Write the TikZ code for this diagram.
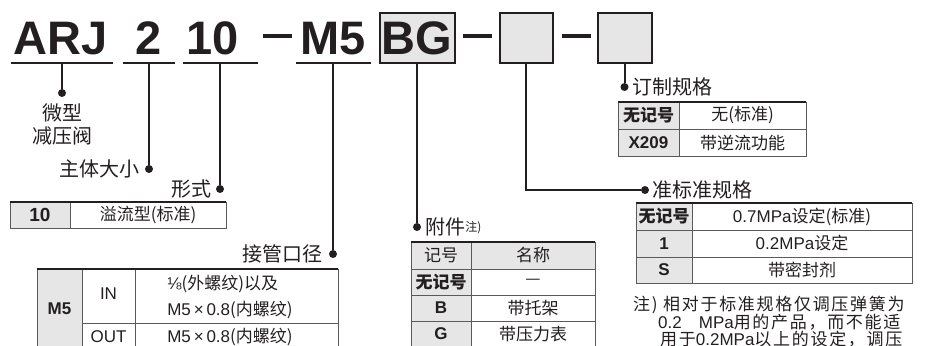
\documentclass[tikz,border=0pt]{standalone}
\usepackage{fontspec}
\setmainfont{Noto Sans CJK SC}
\newfontfamily\hv{Liberation Sans}
\newfontfamily\notefont{Noto Sans CJK SC}[LetterSpace=10]
\usetikzlibrary{positioning}
\definecolor{ink}{HTML}{231F20}
\definecolor{cellgray}{HTML}{E6E6E6}
\definecolor{rulegray}{HTML}{5A5A5A}

\begin{document}
\begin{tikzpicture}[x=1pt, y=-1pt, every node/.style={text=ink, inner sep=0},
  code/.style={font=\hv\bfseries\fontsize{47}{47}\selectfont, anchor=base},
  bar/.style={fill=ink, minimum width=#1, minimum height=2.5pt},
  slot/.style={draw=ink, line width=2pt, fill=cellgray, minimum width=#1, minimum height=50pt},
  hyph/.style={fill=ink, minimum width=29pt, minimum height=4pt},
  dot/.style={circle, fill=ink, minimum size=8pt},
  lead/.style={draw=ink, line width=2pt},
  lbl/.style={font=\fontsize{20}{23}\selectfont},
  cell/.style={font=\fontsize{17}{26}\selectfont},
  key/.style={font=\hv\bfseries\fontsize{17}{17}\selectfont},
  rule/.style={draw=rulegray, line width=0.9pt},
  toprule/.style={draw=ink, line width=1.8pt}]
\useasboundingbox (0,0) rectangle (933,345);

\node[code] (arj) at (61,55) {ARJ};
\node[code] (size) at (149,55) {2};
\node[code] (form) at (213,55) {10};
\node[code] (port) at (333,55) {M5};
\node[slot=75pt] (acc) at (417,38) {};
\node[code] (acctxt) at (417,55) {BG};
\node[slot=53pt] (semi) at (526,38) {};
\node[slot=54pt] (made) at (624.5,38) {};
\node[hyph] (h1) at (277.5,36) {};
\node[hyph] (h2) at (477.5,36) {};
\node[hyph] (h3) at (576.5,36) {};

\node[bar=102pt] (arjbar) at (62,63) {};
\node[bar=52pt] (sizebar) at (149,63) {};
\node[bar=75pt] (formbar) at (220,63) {};
\node[bar=75pt] (portbar) at (333,63) {};

\node[dot] (d1) at (62,93) {};
\node[dot] (d2) at (149,169) {};
\node[dot] (d3) at (220,189) {};
\node[dot] (d4) at (333,254) {};
\node[dot] (d5) at (417,227) {};
\node[dot] (d6) at (645,190) {};
\node[dot] (d7) at (624.5,87) {};

\draw[lead] (arjbar) -- (d1);
\draw[lead] (sizebar) -- (d2);
\draw[lead] (formbar) -- (d3);
\draw[lead] (portbar) -- (d4);
\draw[lead] (acc) -- (d5);
\draw[lead] (semi) |- (d6);
\draw[lead] (made) -- (d7);

\node[lbl, align=center, below=6pt of d1] (l1) {微型\\减压阀};
\node[lbl, left=5pt of d2] (l2) {主体大小};
\node[lbl, left=4pt of d3] (l3) {形式};
\node[lbl, left=6pt of d4] (l4) {接管口径};
\node[lbl, right=4pt of d5] (l5) {附件\raisebox{3pt}{\fontsize{12}{12}\selectfont 注)}};
\node[lbl, right=3pt of d6] (l6) {准标准规格};
\node[lbl, right=4pt of d7] (l7) {订制规格};

\fill[cellgray] (10,202) rectangle (70,228);
\draw[rule] (10,202) rectangle (226,228) (70,202) -- (70,228);
\draw[toprule] (10,202) -- (226,202);
\node[key, font=\hv\bfseries\fontsize{19}{19}\selectfont] (f1) at (40,215) {10};
\node[cell] (f2) at (148,215) {溢流型(标准)};

\fill[cellgray] (37,269) rectangle (82,350);
\draw[rule] (37,269) rectangle (338,350) (82,269) -- (82,350) (135,269) -- (135,350) (82,323) -- (338,323);
\draw[toprule] (37,269) -- (338,269);
\node[key] (p1) at (59.5,309) {M5};
\node[cell, font=\hv\fontsize{17}{17}\selectfont] (p2) at (108.5,294) {IN};
\node[cell, font=\hv\fontsize{17}{17}\selectfont] (p3) at (108.5,337) {OUT};
\node[cell, align=left] (p4) at (230,297) {{\hv ⅛}(外螺纹)以及\\{\hv M5\,×\,0.8}(内螺纹)};
\node[cell] (p5) at (230,337) {{\hv M5\,×\,0.8}(内螺纹)};

\fill[cellgray] (411,242) rectangle (595,269) (411,269) rectangle (471,350);
\draw[rule] (411,242) rectangle (595,347) (471,242) -- (471,347);
\foreach \y in {269,295,321}{
	\draw[rule] (411,\y) -- (595,\y);
}
\draw[toprule] (411,242) -- (595,242);
\foreach \k/\v/\y [count=\i] in {记号/名称/255.5, {\bfseries 无记号}/—/282, {\hv\bfseries B}/带托架/308, {\hv\bfseries G}/带压力表/334}{
	\node[cell] (ak\i) at (441,\y) {\k};
	\node[cell] (av\i) at (533,\y) {\v};
}

\fill[cellgray] (618,102) rectangle (679,156);
\draw[rule] (618,102) rectangle (806,156) (679,102) -- (679,156) (618,129) -- (806,129);
\draw[toprule] (618,102) -- (806,102);
\foreach \k/\v/\y [count=\i] in {{\bfseries 无记号}/无(标准)/115.5, {\hv\bfseries X209}/带逆流功能/142.5}{
	\node[cell] (ck\i) at (648.5,\y) {\k};
	\node[cell] (cv\i) at (742.5,\y) {\v};
}

\fill[cellgray] (636,203) rectangle (692,283);
\draw[rule] (636,203) rectangle (912,283) (692,203) -- (692,283);
\foreach \y in {230,257}{
	\draw[rule] (636,\y) -- (912,\y);
}
\draw[toprule] (636,203) -- (912,203);
\foreach \k/\v/\y [count=\i] in {{\bfseries 无记号}/{{\hv 0.7MPa}设定(标准)}/216.5, {\hv\bfseries 1}/{{\hv 0.2MPa}设定}/243.5, {\hv\bfseries S}/带密封剂/270}{
	\node[cell] (sk\i) at (664,\y) {\k};
	\node[cell] (sv\i) at (802,\y) {\v};
}

\node[anchor=west, font=\notefont\fontsize{17}{17}\selectfont] (n1) at (633,305) {注) 相对于标准规格仅调压弹簧为};
\node[anchor=west, font=\notefont\fontsize{17}{17}\selectfont] (n2) at (658,322) {{\hv 0.2\quad MPa}用的产品，而不能适};
\node[anchor=west, font=\notefont\fontsize{17}{17}\selectfont] (n3) at (660,339) {用于{\hv 0.2MPa}以上的设定，调压};
\end{tikzpicture}
\end{document}
